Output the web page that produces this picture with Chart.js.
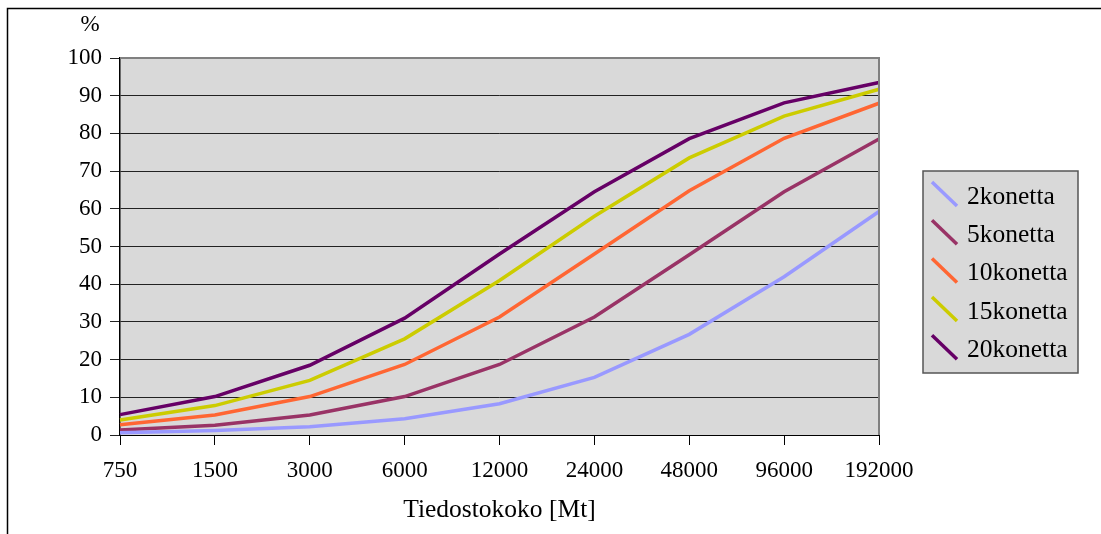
<!DOCTYPE html>
<html>
<head>
<meta charset="utf-8">
<script src="https://cdn.jsdelivr.net/npm/chart.js@4/dist/chart.umd.min.js"></script>
<style>
  body { margin: 0; background: #fff; }
  canvas { display: block; }
</style>
</head>
<body>
<canvas id="kaavio" width="1101" height="534"></canvas>
<script>
const koot = ['750', '1500', '3000', '6000', '12000', '24000', '48000', '96000', '192000'];
const sarjat = ['2konetta', '5konetta', '10konetta', '15konetta', '20konetta'];
const k2 = [0.6, 1.2, 2.2, 4.3, 8.3, 15.3, 26.7, 42, 59.3];
const k5 = [1.3, 2.6, 5.3, 10.2, 18.7, 31.3, 47.8, 64.5, 78.5];
const k10 = [2.7, 5.3, 10.2, 18.7, 31.3, 48, 64.8, 78.7, 88];
const k15 = [4, 7.8, 14.5, 25.5, 41, 58, 73.5, 84.6, 91.7];
const k20 = [5.4, 10.2, 18.5, 31, 48, 64.5, 78.6, 88.1, 93.5];
const yTicks = [0, 10, 20, 30, 40, 50, 60, 70, 80, 90, 100];

const varit = ['#9999ff', '#993366', '#ff6633', '#cccc00', '#660066'];
const arvot = [k2, k5, k10, k15, k20];
const fontti = 'Liberation Serif, Times New Roman, serif';

const tausta = {
    id: 'tausta',
    beforeDraw(chart) {
        const ctx = chart.ctx;
        const a = chart.chartArea;
        ctx.save();
        ctx.fillStyle = '#d9d9d9';
        ctx.fillRect(a.left, a.top, a.right - a.left, a.bottom - a.top);
        // ulkokehys
        ctx.strokeStyle = '#000';
        ctx.lineWidth = 1.5;
        ctx.beginPath();
        ctx.moveTo(7.5, 534);
        ctx.lineTo(7.5, 8.5);
        ctx.lineTo(1101, 8.5);
        ctx.stroke();
        ctx.restore();
    },
    afterDraw(chart) {
        const ctx = chart.ctx;
        const a = chart.chartArea;
        ctx.save();
        // kuvaajan reunat
        ctx.strokeStyle = '#808080';
        ctx.lineWidth = 2;
        ctx.beginPath();
        ctx.moveTo(a.left, a.top);
        ctx.lineTo(a.right, a.top);
        ctx.lineTo(a.right, a.bottom);
        ctx.stroke();
        // %-otsikko
        ctx.fillStyle = '#000';
        ctx.font = '23px ' + fontti;
        ctx.textAlign = 'center';
        ctx.textBaseline = 'middle';
        ctx.fillText('%', 90, 25);
        // selite
        const lx = 923, ly = 171, lw = 155, lh = 202;
        ctx.fillStyle = '#d9d9d9';
        ctx.fillRect(lx, ly, lw, lh);
        ctx.strokeStyle = '#555';
        ctx.lineWidth = 1.5;
        ctx.strokeRect(lx, ly, lw, lh);
        ctx.textAlign = 'left';
        ctx.font = '25.5px ' + fontti;
        chart.data.datasets.forEach((ds, i) => {
            const cy = 196 + i * 38.3;
            ctx.strokeStyle = ds.borderColor;
            ctx.lineWidth = 3.5;
            ctx.beginPath();
            ctx.moveTo(932, cy - 14);
            ctx.lineTo(957, cy + 10);
            ctx.stroke();
            ctx.fillStyle = '#000';
            ctx.fillText(ds.label, 967, cy + 1);
        });
        ctx.restore();
    }
};

new Chart(document.getElementById('kaavio'), {
    type: 'line',
    data: {
        labels: koot,
        datasets: sarjat.map((nimi, i) => ({
            label: nimi,
            data: arvot[i],
            borderColor: varit[i],
            backgroundColor: varit[i],
            borderWidth: 3.5,
            pointRadius: 0,
            tension: 0,
            fill: false
        }))
    },
    options: {
        responsive: false,
        animation: false,
        layout: { padding: { left: 0, right: 222, top: 58, bottom: 4 } },
        plugins: {
            legend: { display: false },
            tooltip: { enabled: false }
        },
        scales: {
            x: {
                offset: false,
                afterFit: s => { s.height = 95; },
                grid: { drawOnChartArea: false, drawTicks: true, tickLength: 10, color: '#000' },
                border: { color: '#000', width: 1 },
                ticks: { color: '#000', padding: 12, maxRotation: 0, font: { family: fontti, size: 23 } },
                title: { display: true, text: 'Tiedostokoko [Mt]', color: '#000', font: { family: fontti, size: 25.5 } }
            },
            y: {
                min: 0,
                max: 100,
                afterFit: s => { s.width = 120; },
                afterBuildTicks: s => { s.ticks = yTicks.map(v => ({ value: v })); },
                grid: { color: '#222', lineWidth: 1, tickLength: 10 },
                border: { color: '#000', width: 1.5 },
                ticks: { color: '#000', padding: 8, font: { family: fontti, size: 23 } }
            }
        }
    },
    plugins: [tausta]
});
</script>
</body>
</html>
